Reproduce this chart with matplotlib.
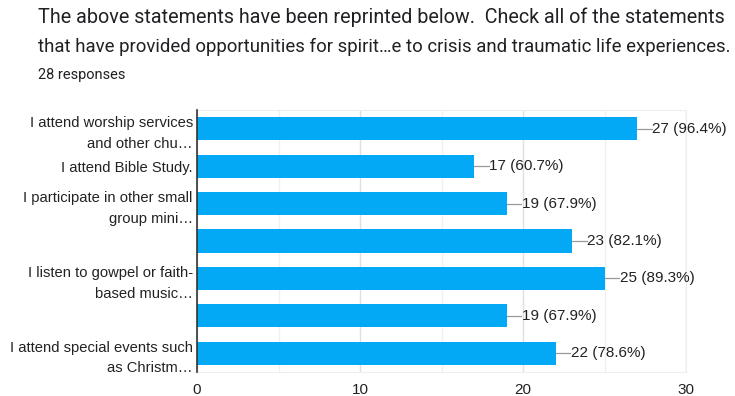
import matplotlib
matplotlib.use("Agg")
import matplotlib.pyplot as plt
from matplotlib.ticker import MultipleLocator

title_lines = [
    "The above statements have been reprinted below.  Check all of the statements",
    "that have provided opportunities for spirit\u2026e to crisis and traumatic life experiences.",
]
subtitle = "28 responses"
categories = [
    "I attend worship services\nand other chu\u2026",
    "I attend Bible Study.",
    "I participate in other small\ngroup mini\u2026",
    "",
    "I listen to gowpel or faith-\nbased music\u2026",
    "",
    "I attend special events such\nas Christm\u2026",
]
counts = [27, 17, 19, 23, 25, 19, 22]
percents = [96.4, 60.7, 67.9, 82.1, 89.3, 67.9, 78.6]
xticks = [0, 10, 20, 30]

bar_color = "#03a9f4"
text_color = "#222222"
label_font = ["Liberation Sans", "DejaVu Sans"]
title_font = ["Roboto", "DejaVu Sans"]

W, H = 735, 396
fig = plt.figure(figsize=(W / 100, H / 100), dpi=100)
fig.patch.set_facecolor("white")
renderer = fig.canvas.get_renderer()

# Title lines: fit each line between the same left edge and its right edge
title_left = 38
for line, ypix, right in zip(title_lines, [17, 47], [730, 734]):
    t = fig.text(title_left / W, 1 - ypix / H, line, fontsize=14, family=title_font,
                 color="#202124", va="center", ha="left")
    width = t.get_window_extent(renderer).width
    t.set_fontsize(14 * (right - title_left) / width)
fig.text(title_left / W, 1 - 75 / H, subtitle, fontsize=10.5, family=title_font,
         color="#202124", va="center", ha="left")

ax = fig.add_axes([197 / W, 1 - 372 / H, (686 - 197) / W, (372 - 110) / H])

y = list(range(len(categories)))
ax.barh(y, counts, height=0.62, color=bar_color, zorder=3)
ax.set_ylim(len(categories) - 0.5, -0.5)
ax.set_xlim(0, 30)
ax.set_yticks(y)
ax.set_yticklabels(categories, fontsize=10.6, family=label_font, color=text_color,
                   linespacing=1.6)
ax.set_xticks(xticks)
ax.set_xticklabels([str(t) for t in xticks], fontsize=11, family=label_font, color=text_color)
ax.xaxis.set_minor_locator(MultipleLocator(5))
ax.tick_params(axis="both", which="both", length=0)
ax.tick_params(axis="y", pad=3)
ax.tick_params(axis="x", pad=8)

ax.grid(axis="x", which="major", color="#e0e0e0", linewidth=1, zorder=0)
ax.grid(axis="x", which="minor", color="#f0f0f0", linewidth=1, zorder=0)
for side in ["top", "right", "bottom"]:
    ax.spines[side].set_color("#eeeeee")
ax.spines["left"].set_color("#333333")
ax.spines["left"].set_linewidth(1.2)
ax.spines["left"].set_zorder(4)

for yi, c, p in zip(y, counts, percents):
    ax.plot([c, c + 0.9], [yi, yi], color="#999999", linewidth=0.9, zorder=3,
            clip_on=False)
    ax.text(c + 0.93, yi, f"{c} ({p}%)", fontsize=11, family=label_font,
            color=text_color, va="center", ha="left", clip_on=False)

fig.savefig("out.png", dpi=100, facecolor="white")
